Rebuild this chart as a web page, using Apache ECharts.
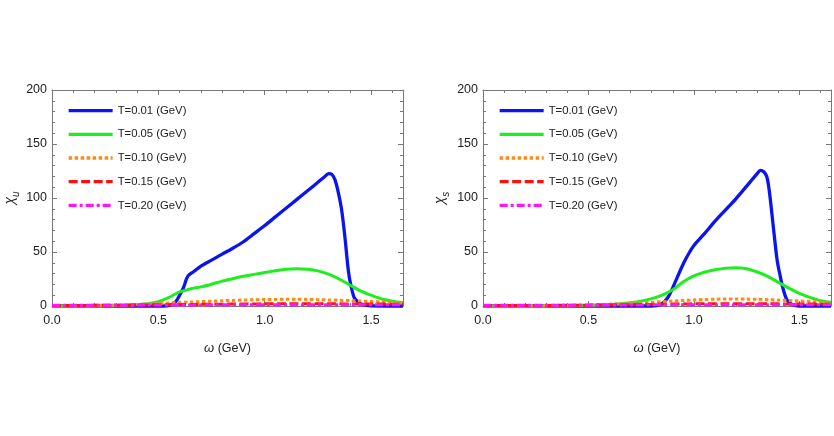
<!DOCTYPE html>
<html>
<head>
<meta charset="utf-8">
<script src="https://cdn.jsdelivr.net/npm/echarts@6/dist/echarts.min.js"></script>
<style>
  html, body { margin: 0; padding: 0; background: #fff; }
  #main { width: 834px; height: 436px; }
</style>
</head>
<body>
<div id="main"></div>
<script>
var chart = echarts.init(document.getElementById('main'));

// legend names
var names = ['T=0.01 (GeV)', 'T=0.05 (GeV)', 'T=0.10 (GeV)', 'T=0.15 (GeV)', 'T=0.20 (GeV)'];
var colors = ['#0a14f0', '#1eee1e', '#ff8a14', '#ff1010', '#ff14ff'];

// shared omega grid for smooth curves (GeV)
var gridX = [0, 0.1, 0.2, 0.3, 0.35, 0.4, 0.45, 0.5, 0.55, 0.6, 0.65, 0.7, 0.75, 0.8, 0.85, 0.9, 0.95,
  1.0, 1.05, 1.1, 1.15, 1.2, 1.25, 1.3, 1.35, 1.4, 1.45, 1.5, 1.55, 1.6, 1.65];

// ---- left panel: chi_u ----
var uBlueX = [0, 0.2, 0.4, 0.5, 0.54, 0.56, 0.58, 0.60, 0.62, 0.63, 0.64, 0.66, 0.70, 0.75, 0.80, 0.85,
  0.90, 0.95, 1.00, 1.05, 1.10, 1.15, 1.20, 1.25, 1.28, 1.30, 1.315, 1.33, 1.345, 1.36, 1.37, 1.38,
  1.39, 1.40, 1.42, 1.44, 1.46, 1.50, 1.65];
var uBlueY = [0, 0, 0, 0, 0.2, 1.2, 3.5, 10, 18, 24, 28, 31, 37, 42.5, 48, 53.5,
  59.5, 67, 74.5, 82.5, 90.5, 98.5, 106.5, 114.5, 119.5, 122.5, 122, 117, 106, 91, 76, 58,
  38, 24, 8, 3.5, 1.2, 0.2, 0];
var uGreen = [0, 0, 0.1, 0.4, 0.8, 1.3, 2.1, 4, 8, 13, 15.8, 17.7, 20.2, 23, 25.3, 27.5, 29.3,
  31, 32.6, 34, 34.5, 34, 32.5, 29.5, 25, 19.5, 14, 10, 6.5, 4.5, 3];
var uOrange = [0.3, 0.4, 0.6, 0.9, 1.1, 1.4, 1.8, 2.3, 2.8, 3.3, 3.7, 4.1, 4.5, 4.9, 5.2, 5.5, 5.8,
  6, 6.1, 6.2, 6.2, 6.1, 5.9, 5.6, 5.3, 5, 4.6, 4.2, 3.8, 3.4, 3];
var uRed = [0.5, 0.5, 0.6, 0.7, 0.8, 0.9, 1.0, 1.1, 1.2, 1.3, 1.4, 1.5, 1.6, 1.7, 1.8, 1.9, 1.9,
  2, 2, 2.1, 2.1, 2.1, 2, 2, 2, 1.9, 1.9, 1.8, 1.8, 1.7, 1.6];
var uMagenta = [0.7, 0.7, 0.7, 0.8, 0.8, 0.8, 0.9, 0.9, 0.9, 1, 1, 1, 1.1, 1.1, 1.1, 1.2, 1.2,
  1.2, 1.2, 1.2, 1.2, 1.2, 1.2, 1.2, 1.2, 1.2, 1.1, 1.1, 1.1, 1.1, 1.1];

// ---- right panel: chi_s ----
var sBlueX = [0, 0.4, 0.8, 0.82, 0.84, 0.86, 0.88, 0.90, 0.92, 0.94, 0.96, 0.98, 1.0, 1.05, 1.1, 1.15,
  1.2, 1.25, 1.28, 1.30, 1.315, 1.33, 1.345, 1.355, 1.365, 1.38, 1.395, 1.41, 1.42, 1.44, 1.46, 1.48,
  1.5, 1.65];
var sBlueY = [0, 0, 0, 0.3, 1.2, 4, 9, 17, 26, 35, 43, 50, 56, 67, 78.5, 89,
  99.5, 111, 118, 122.5, 125.5, 124.5, 120, 110, 94, 67, 42, 27, 18, 6, 2, 0.5,
  0, 0];
var sGreen = [0, 0, 0, 0.1, 0.2, 0.3, 0.4, 0.6, 0.9, 1.3, 2, 3, 4.5, 6.8, 10, 15, 22.5,
  28, 31.3, 33.5, 35, 35.5, 34.5, 31.5, 27.5, 22, 16.5, 11.8, 8, 5, 3.5];
var sOrange = [0.2, 0.2, 0.3, 0.4, 0.5, 0.6, 0.8, 1, 1.3, 1.6, 2, 2.5, 3, 3.5, 4, 4.6, 5.1,
  5.6, 6, 6.3, 6.5, 6.5, 6.4, 6.2, 5.9, 5.5, 5.1, 4.6, 4.1, 3.6, 3.2];
var sRed = [0.4, 0.4, 0.5, 0.5, 0.6, 0.6, 0.7, 0.8, 0.9, 1, 1.1, 1.2, 1.4, 1.5, 1.6, 1.8, 1.9,
  2, 2, 2.1, 2.1, 2.1, 2.1, 2, 2, 2, 1.9, 1.9, 1.8, 1.7, 1.7];
var sMagenta = [0.7, 0.7, 0.7, 0.7, 0.7, 0.8, 0.8, 0.8, 0.9, 0.9, 0.9, 1, 1, 1.1, 1.1, 1.1, 1.2,
  1.2, 1.2, 1.2, 1.2, 1.2, 1.2, 1.2, 1.2, 1.2, 1.2, 1.1, 1.1, 1.1, 1.1];

var xTicks = [0, 0.5, 1.0, 1.5];
var FONT = 'Liberation Sans, Arial, sans-serif';
var frameColor = '#777';

function pairs(xs, ys) {
  return xs.map(function (x, i) { return [x, ys[i]]; });
}

var dashes = [null, null, [3.5, 2.5], [9, 3.5], [8, 3, 3, 3]];
var widths = [3.3, 3, 3, 3, 3];

function makeSeries(idx, xIdx, yIdx, data) {
  return {
    name: names[idx],
    type: 'line',
    xAxisIndex: xIdx,
    yAxisIndex: yIdx,
    data: data,
    symbol: 'none',
    smooth: 0.3,
    clip: false,
    animation: false,
    color: colors[idx],
    lineStyle: {
      color: colors[idx],
      width: widths[idx],
      type: dashes[idx] || 'solid',
      cap: 'butt'
    }
  };
}

function xLabel(v) {
  for (var i = 0; i < xTicks.length; i++) {
    if (Math.abs(v - xTicks[i]) < 1e-6) return v.toFixed(1);
  }
  return '';
}

function xAxisDef(grid, pos, withLabels) {
  return {
    type: 'value', gridIndex: grid, position: pos,
    min: 0, max: 1.65, interval: 0.5,
    name: withLabels ? '{w|ω} (GeV)' : '',
    nameLocation: 'middle', nameGap: 36,
    nameTextStyle: {
      fontFamily: FONT, fontSize: 12.5, color: '#222',
      rich: { w: { fontFamily: FONT, fontSize: 13, fontStyle: 'italic', color: '#222' } }
    },
    axisLine: { show: true, onZero: false, lineStyle: { color: frameColor, width: 1 } },
    axisTick: { show: true, inside: true, length: 5, lineStyle: { color: frameColor } },
    minorTick: { show: true, splitNumber: 5, length: 3, lineStyle: { color: frameColor } },
    axisLabel: { show: withLabels, formatter: xLabel, margin: 8, fontFamily: FONT, fontSize: 12.5, color: '#222' },
    splitLine: { show: false }
  };
}

function yAxisDef(grid, pos, withLabels, sub, gap) {
  return {
    type: 'value', gridIndex: grid, position: pos,
    min: 0, max: 200, interval: 50,
    name: withLabels ? '{c|χ}{s|' + sub + '}' : '',
    nameLocation: 'middle', nameRotate: 90, nameGap: gap,
    nameTextStyle: {
      rich: {
        c: { fontFamily: FONT, fontSize: 14, fontStyle: 'italic', color: '#222', verticalAlign: 'bottom', padding: [0, 0, 4, 0] },
        s: { fontFamily: FONT, fontSize: 10, fontStyle: 'italic', color: '#222', verticalAlign: 'bottom' }
      }
    },
    axisLine: { show: true, onZero: false, lineStyle: { color: frameColor, width: 1 } },
    axisTick: { show: true, inside: true, length: 5, lineStyle: { color: frameColor } },
    minorTick: { show: true, splitNumber: 5, length: 3, lineStyle: { color: frameColor } },
    axisLabel: { show: withLabels, margin: 5, fontFamily: FONT, fontSize: 12.5, color: '#222' },
    splitLine: { show: false }
  };
}

var leftData = [pairs(uBlueX, uBlueY), pairs(gridX, uGreen), pairs(gridX, uOrange), pairs(gridX, uRed), pairs(gridX, uMagenta)];
var rightData = [pairs(sBlueX, sBlueY), pairs(gridX, sGreen), pairs(gridX, sOrange), pairs(gridX, sRed), pairs(gridX, sMagenta)];

var series = [];
for (var i = 0; i < names.length; i++) series.push(makeSeries(i, 0, 0, leftData[i]));
for (var j = 0; j < names.length; j++) series.push(makeSeries(j, 2, 2, rightData[j]));

function legendDef(left) {
  return {
    show: true, orient: 'vertical', left: left, top: 100,
    itemWidth: 44, itemHeight: 14, itemGap: 12.5,
    selectedMode: false,
    data: names,
    itemStyle: { opacity: 0 },
    lineStyle: { width: 3.3 },
    textStyle: { fontFamily: FONT, fontSize: 11.3, color: '#222' }
  };
}

var option = {
  backgroundColor: '#fff',
  animation: false,
  grid: [
    { left: 52, top: 90, width: 351, height: 216 },
    { left: 483, top: 90, width: 350, height: 216 }
  ],
  xAxis: [
    xAxisDef(0, 'bottom', true), xAxisDef(0, 'top', false),
    xAxisDef(1, 'bottom', true), xAxisDef(1, 'top', false)
  ],
  yAxis: [
    yAxisDef(0, 'left', true, 'u', 31), yAxisDef(0, 'right', false, '', 0),
    yAxisDef(1, 'left', true, 's', 32), yAxisDef(1, 'right', false, '', 0)
  ],
  legend: [legendDef(62), legendDef(493)],
  series: series
};

chart.setOption(option);
</script>
</body>
</html>
